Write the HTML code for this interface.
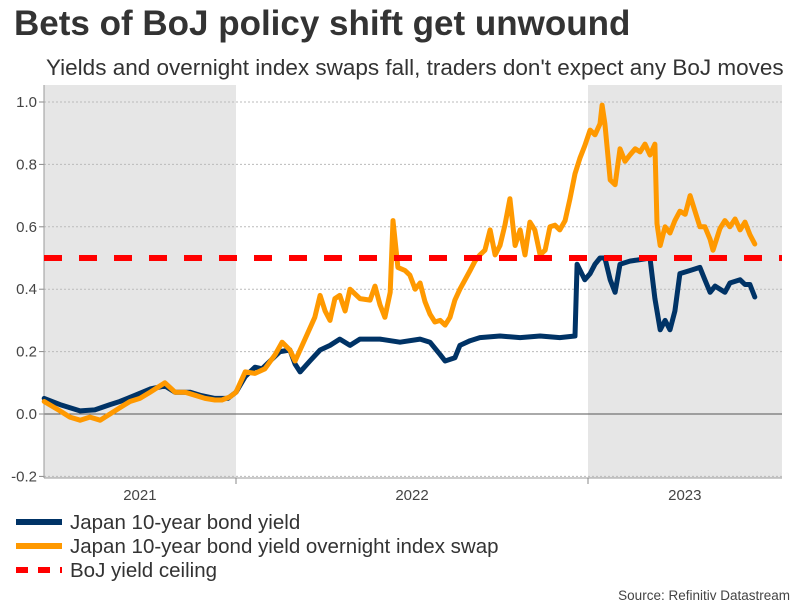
<!DOCTYPE html>
<html><head><meta charset="utf-8"><style>
body{margin:0;width:806px;height:605px;background:#fff;font-family:"Liberation Sans",sans-serif;overflow:hidden}
</style></head><body>
<svg width="806" height="605" viewBox="0 0 806 605" xmlns="http://www.w3.org/2000/svg">
<text x="14" y="35" font-size="35" font-weight="bold" fill="#333">Bets of BoJ policy shift get unwound</text>
<text x="46" y="75" font-size="22.5" fill="#333">Yields and overnight index swaps fall, traders don't expect any BoJ moves</text>
<g id="plot"></g>
<g>
<line x1="16" y1="522" x2="62" y2="522" stroke="#003366" stroke-width="6"/>
<text x="70" y="529" font-size="20.5" fill="#333">Japan 10-year bond yield</text>
<line x1="16" y1="546" x2="62" y2="546" stroke="#ff9900" stroke-width="6"/>
<text x="70" y="553" font-size="20.5" fill="#333">Japan 10-year bond yield overnight index swap</text>
<line x1="16" y1="570" x2="62" y2="570" stroke="#ff0000" stroke-width="6" stroke-dasharray="12,10"/>
<text x="70" y="577" font-size="20.5" fill="#333">BoJ yield ceiling</text>
</g>
<text x="790" y="600" font-size="13.5" fill="#444" text-anchor="end">Source: Refinitiv Datastream</text>
</svg>
<script>
const yTicks=[-0.2,0,0.2,0.4,0.6,0.8,1.0];
const yearLabels=["2021","2022","2023"];
const yearLabelPos=[2021.727,2022.5,2023.275];
const yearTicks=[2022,2023];
const shadeSpans=[[2021.455,2022],[2023,2023.551]];
const ceiling=0.5;
const jgbT=[2021.455,2021.5,2021.557,2021.599,2021.642,2021.67,2021.713,2021.756,2021.798,2021.827,2021.869,2021.898,2021.94,2021.977,2022,2022.026,2022.054,2022.074,2022.097,2022.125,2022.153,2022.168,2022.182,2022.21,2022.239,2022.267,2022.295,2022.324,2022.352,2022.409,2022.466,2022.523,2022.551,2022.58,2022.594,2022.622,2022.636,2022.665,2022.693,2022.75,2022.807,2022.864,2022.92,2022.963,2022.969,2022.991,2023.006,2023.02,2023.034,2023.048,2023.063,2023.077,2023.091,2023.119,2023.148,2023.176,2023.19,2023.205,2023.219,2023.233,2023.247,2023.261,2023.29,2023.318,2023.332,2023.347,2023.361,2023.389,2023.403,2023.432,2023.446,2023.46,2023.474];
const jgbV=[0.05,0.03,0.01,0.013,0.03,0.04,0.06,0.08,0.09,0.07,0.07,0.06,0.05,0.05,0.07,0.12,0.15,0.145,0.17,0.2,0.205,0.16,0.135,0.17,0.205,0.22,0.24,0.22,0.24,0.24,0.23,0.24,0.23,0.19,0.17,0.18,0.22,0.235,0.245,0.25,0.245,0.25,0.245,0.25,0.48,0.43,0.45,0.48,0.5,0.5,0.43,0.39,0.48,0.49,0.495,0.5,0.37,0.27,0.3,0.27,0.33,0.45,0.46,0.47,0.43,0.39,0.41,0.39,0.42,0.43,0.415,0.415,0.375];
const oisT=[2021.455,2021.5,2021.528,2021.557,2021.585,2021.614,2021.642,2021.67,2021.699,2021.727,2021.756,2021.784,2021.798,2021.827,2021.855,2021.884,2021.912,2021.94,2021.96,2021.983,2022,2022.026,2022.054,2022.082,2022.111,2022.131,2022.153,2022.168,2022.196,2022.224,2022.239,2022.253,2022.267,2022.281,2022.295,2022.31,2022.324,2022.352,2022.381,2022.395,2022.409,2022.423,2022.438,2022.446,2022.46,2022.48,2022.494,2022.509,2022.523,2022.537,2022.551,2022.565,2022.58,2022.594,2022.608,2022.622,2022.636,2022.665,2022.679,2022.693,2022.707,2022.722,2022.736,2022.75,2022.764,2022.778,2022.793,2022.807,2022.821,2022.835,2022.849,2022.864,2022.878,2022.892,2022.906,2022.92,2022.935,2022.949,2022.963,2022.977,2022.991,2023.006,2023.02,2023.034,2023.04,2023.048,2023.063,2023.077,2023.091,2023.105,2023.119,2023.134,2023.148,2023.162,2023.176,2023.19,2023.196,2023.205,2023.219,2023.233,2023.247,2023.261,2023.276,2023.29,2023.304,2023.318,2023.332,2023.347,2023.355,2023.375,2023.389,2023.403,2023.418,2023.432,2023.446,2023.46,2023.474];
const oisV=[0.04,0.01,-0.01,-0.02,-0.01,-0.02,0,0.02,0.04,0.05,0.07,0.09,0.1,0.07,0.07,0.06,0.05,0.045,0.045,0.055,0.07,0.135,0.13,0.145,0.19,0.23,0.205,0.17,0.24,0.31,0.38,0.33,0.3,0.37,0.38,0.33,0.4,0.37,0.365,0.41,0.35,0.31,0.39,0.62,0.47,0.46,0.445,0.4,0.42,0.36,0.32,0.295,0.3,0.285,0.31,0.365,0.4,0.46,0.49,0.51,0.525,0.59,0.51,0.54,0.605,0.69,0.54,0.59,0.51,0.615,0.59,0.51,0.525,0.6,0.605,0.59,0.62,0.69,0.77,0.82,0.86,0.91,0.895,0.93,0.99,0.93,0.75,0.735,0.85,0.81,0.83,0.85,0.84,0.865,0.83,0.865,0.61,0.54,0.6,0.58,0.62,0.65,0.64,0.7,0.65,0.6,0.6,0.56,0.525,0.595,0.62,0.6,0.625,0.59,0.615,0.575,0.545];

const NS="http://www.w3.org/2000/svg";
const L=44,R=782,T=85,B=478;
const xS=t=>236+(t-2022)*352;
const yS=v=>414-v*312;
const g=document.getElementById('plot');
function mk(tag,a){const e=document.createElementNS(NS,tag);for(const k in a)e.setAttribute(k,a[k]);g.appendChild(e);return e;}
shadeSpans.forEach(s=>{
  const r=mk('rect',{x:Math.max(L,xS(s[0])),y:T,width:Math.min(R,xS(s[1]))-Math.max(L,xS(s[0])),height:B-T,fill:'#e6e6e6'});
  
  
});
yTicks.forEach(v=>{
  const y=yS(v);
  const ln=mk('line',{x1:L,x2:R,y1:y,y2:y,stroke:v===0?'#555':'#bbb','stroke-width':1,'stroke-dasharray':v===0?'':'2,2'});
  
  
  const tk=mk('line',{x1:L-5,x2:L,y1:y,y2:y,stroke:'#888'});
  
  
  const tx=mk('text',{x:L-7,y:y+5,'font-size':15,fill:'#444','text-anchor':'end'});
  tx.textContent=v.toFixed(1);
  
  
});
const ax=mk('line',{x1:L,x2:L,y1:T,y2:B,stroke:'#999'});


const bx=mk('line',{x1:L,x2:R,y1:B,y2:B,stroke:'#999'});


yearTicks.forEach(t=>{
  const tk=mk('line',{x1:xS(t),x2:xS(t),y1:B,y2:B+6,stroke:'#888'});
  
  
});
yearLabels.forEach((s,i)=>{
  const tx=mk('text',{x:xS(yearLabelPos[i]),y:B+22,'font-size':15,fill:'#444','text-anchor':'middle'});
  tx.textContent=s;
  
  
});
function path(ts,vs,color,name){
  const d=ts.map((t,i)=>(i?'L':'M')+xS(t).toFixed(1)+','+yS(vs[i]).toFixed(1)).join('');
  const p=mk('path',{d:d,fill:'none',stroke:color,'stroke-width':5,'stroke-linejoin':'round','stroke-linecap':'round'});
  
  
}
path(jgbT,jgbV,'#003366','series-jgb-yield');
path(oisT,oisV,'#ff9900','series-ois');
const c=mk('line',{x1:L,x2:R,y1:yS(ceiling),y2:yS(ceiling),stroke:'#ff0000','stroke-width':6,'stroke-dasharray':'18,17'});


</script>
</body></html>
